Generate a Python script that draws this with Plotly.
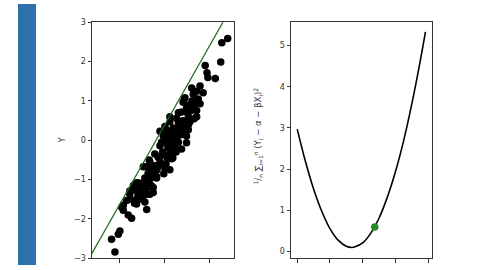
import plotly.graph_objects as go

# ---- data ----
scatter_x = [2.79, 2.53, 2.48, 1.79, 1.87, 1.91, 2.24,
             1.56, 1.19, 1.70, 1.26, 1.41, 0.89, 1.48, 0.81, 1.33, 0.96, 1.41, 0.74, 1.41, 1.04,
             0.52, 0.81, 0.22, 0.59, 1.04, 0.07, 0.37, 0.74, -0.07, 0.22, 1.11, 1.20, 1.56, 0.22, 0.86,
             0.00, 0.37, 0.81, 0.96, 0.00, 0.52, 0.15, -0.22, 0.74, -0.30, 0.30, -0.67, -0.89, 0.00,
             -0.44, -0.37, -0.89, -1.19, -0.67, -1.04, -1.41, -0.67, -1.56, -1.26, -1.70, -0.89, -1.85,
             -0.22, 0.22, 0.67, 0.96, 0.37, 0.07, -0.22, 0.22, -0.96, -0.67, -0.89, -0.37, -1.26, -1.11,
             -0.52, -0.81, -1.56, -1.56, -1.11, -1.26, -0.81, -1.92, -1.85, -1.63, -1.48, -2.00, -2.07,
             -2.37, -2.22, -0.59, -0.52,
             0.40, 0.50, 0.60, 0.30, 0.10, -0.10, -0.30, -0.50, -0.60, -0.80, -1.00, -1.20, -0.70, 0.50,
             0.80, 1.00, 1.20, 0.60, 0.45, -0.15, 0.05, -0.45, 1.30, 0.90, -1.35, -1.00, 0.25, -0.05,
             0.60, 1.10, -0.15, 0.35, -0.75, -1.40, 0.15, 0.70, 1.15, -0.35, -0.95, 0.55,
             1.05, 0.65, 0.30, -0.20, -0.55, -1.05, 0.85, 0.45, 0.10, -0.40, -0.85, -1.15, 1.25, 0.20]
scatter_y = [2.59, 2.48, 1.99, 1.90, 1.72, 1.60, 1.57,
             1.38, 1.33, 1.21, 1.17, 1.25, 1.08, 1.05, 0.97, 0.93, 0.84, 0.76, 0.72, 0.60, 0.60,
             0.56, 0.44, 0.47, 0.31, 0.27, 0.27, 0.19, 0.15, 0.11, 0.07, 0.47, 0.81, 0.93, 0.60, 1.05,
             0.35, 0.31, 0.31, 0.11, 0.07, 0.02, -0.18, -0.14, -0.22, -0.43, -0.47, -0.55, -0.67, -0.71,
             -0.75, -0.92, -0.96, -1.08, -1.12, -1.29, -1.25, -1.37, -1.37, -1.49, -1.53, -1.57, -1.65,
             0.23, 0.19, 0.19, -0.06, -0.22, -0.39, -0.55, -0.75, -0.67, -0.71, -1.04, -0.96, -1.08, -1.25,
             -1.20, -1.37, -1.29, -1.49, -1.49, -1.62, -1.76, -1.70, -1.78, -1.90, -1.98, -2.31, -2.39,
             -2.52, -2.84, -1.16, -1.33,
             0.00, 0.25, 0.45, 0.05, -0.10, -0.30, -0.65, -0.80, -0.95, -1.20, -1.10, -1.35, -0.50, -0.30,
             0.50, 0.70, 1.00, 0.70, -0.10, -0.05, -0.60, -0.35, 0.55, 0.35, -1.60, -1.45, -0.35, -0.85,
             -0.05, 0.90, -0.60, -0.45, -0.85, -1.15, -0.20, 0.40, 0.75, -0.75, -1.30, 0.10,
             0.40, 0.20, -0.15, -0.40, -0.65, -1.30, 0.15, -0.20, -0.45, -0.65, -1.00, -1.20, 0.80, 0.00]

fit_alpha = 0.4
fit_beta = 1.01
line_x = [-3.3, 3.1]

alpha_grid = [-2.0, -1.75, -1.5, -1.25, -1.0, -0.75, -0.5, -0.33, -0.25, 0.0,
              0.25, 0.5, 0.75, 1.0, 1.25, 1.5, 1.75, 1.92]
loss_vals = [2.97, 2.19, 1.52, 0.98, 0.56, 0.28, 0.13, 0.10, 0.11, 0.21,
             0.45, 0.81, 1.31, 1.93, 2.68, 3.57, 4.58, 5.33]
green_alpha = [0.37]
green_loss = [0.60]

left_xticks = [-2, 0, 2]
left_yticks = [-3, -2, -1, 0, 1, 2, 3]
right_xticks = [-2, -1, 0, 1, 2]
right_yticks = [0, 1, 2, 3, 4, 5]

W, H = 480, 270
fig = go.Figure()

fig.add_trace(go.Scatter(x=scatter_x, y=scatter_y, mode="markers",
                         marker=dict(color="black", size=7.5, line=dict(width=0)),
                         xaxis="x", yaxis="y", showlegend=False))
fig.add_trace(go.Scatter(x=line_x, y=[fit_alpha + fit_beta * v for v in line_x], mode="lines",
                         line=dict(color="#1d6b1d", width=1.2),
                         xaxis="x", yaxis="y", showlegend=False))
fig.add_trace(go.Scatter(x=alpha_grid, y=loss_vals, mode="lines",
                         line=dict(color="black", width=1.6, shape="spline"),
                         xaxis="x2", yaxis="y2", showlegend=False))
fig.add_trace(go.Scatter(x=green_alpha, y=green_loss, mode="markers",
                         marker=dict(color="#228b22", size=7.5),
                         xaxis="x2", yaxis="y2", showlegend=False))

axis_common = dict(showline=True, mirror=True, linecolor="#333", linewidth=1,
                   ticks="outside", ticklen=3.5, tickcolor="#333", tickwidth=1,
                   showgrid=False, zeroline=False,
                   tickfont=dict(family="DejaVu Sans", size=8, color="#333"))

def px_x(p):
    return p / W

def px_y(p):
    return 1 - p / H

fig.update_layout(
    width=W, height=H, margin=dict(l=0, r=0, t=0, b=0),
    paper_bgcolor="white", plot_bgcolor="white",
    xaxis=dict(domain=[px_x(92), px_x(234)], range=[-3.24, 3.07], tickvals=left_xticks,
               showticklabels=False, anchor="y", **axis_common),
    yaxis=dict(domain=[px_y(263), px_y(19)], range=[-3, 3], tickvals=left_yticks,
               anchor="x", **axis_common),
    xaxis2=dict(domain=[px_x(291), px_x(432)], range=[-2.19, 2.12], tickvals=right_xticks,
                showticklabels=False, anchor="y2", **axis_common),
    yaxis2=dict(domain=[px_y(263), px_y(19)], range=[-0.16, 5.56], tickvals=right_yticks,
                anchor="x2", **axis_common),
    shapes=[dict(type="rect", xref="paper", yref="paper",
                 x0=px_x(18), x1=px_x(36), y0=0, y1=1,
                 fillcolor="#2d70aa", line=dict(width=0), layer="below")],
    annotations=[
        dict(text="Y", xref="paper", yref="paper", x=px_x(62), y=px_y(141),
             textangle=-90, showarrow=False, xanchor="center", yanchor="middle",
             font=dict(family="DejaVu Sans", size=8, color="#333")),
        dict(text="<sup>1</sup>/<sub>n</sub> ∑<sub>i=1</sub><sup>n</sup> (Y<sub>i</sub> − α − βX<sub>i</sub>)<sup>2</sup>",
             xref="paper", yref="paper", x=px_x(258), y=px_y(137),
             textangle=-90, showarrow=False, xanchor="center", yanchor="middle",
             font=dict(family="DejaVu Sans", size=8.5, color="#333")),
    ],
)

fig.write_html("out.html")
